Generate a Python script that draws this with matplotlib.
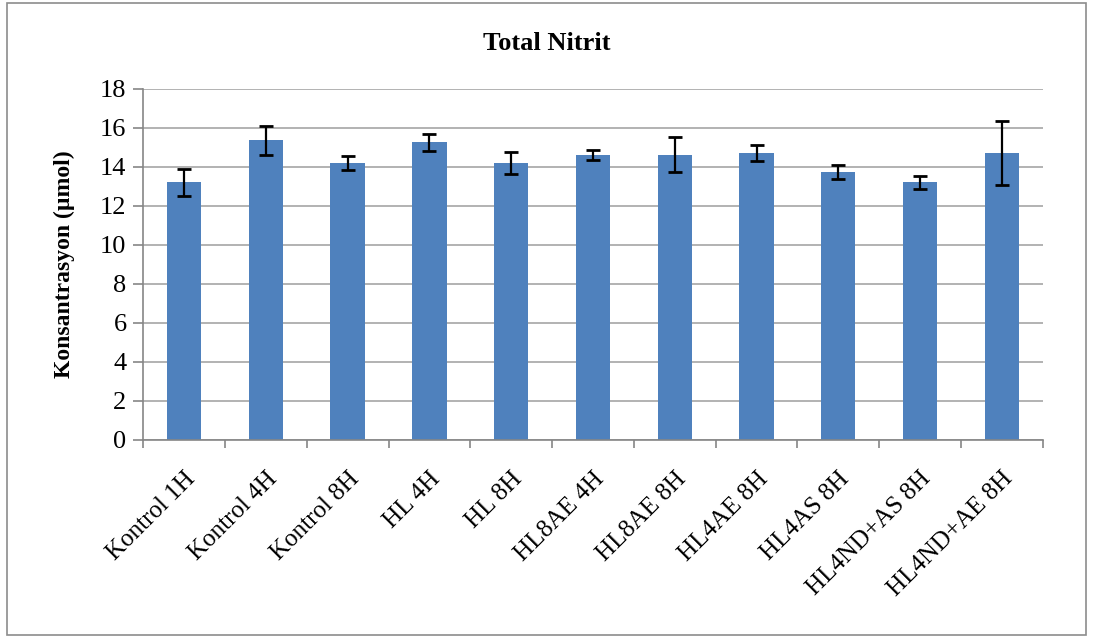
import numpy as np
import matplotlib.pyplot as plt
from matplotlib.patches import Rectangle

# data
groups = ['Kontrol 1H', 'Kontrol 4H', 'Kontrol 8H', 'HL 4H', 'HL 8H', 'HL8AE 4H',
          'HL8AE 8H', 'HL4AE 8H', 'HL4AS 8H', 'HL4ND+AS 8H', 'HL4ND+AE 8H']
means = [13.2, 15.35, 14.2, 15.25, 14.2, 14.6, 14.62, 14.7, 13.72, 13.2, 14.72]
errs = [0.7, 0.73, 0.37, 0.44, 0.55, 0.24, 0.9, 0.43, 0.35, 0.32, 1.65]
yticks = [0, 2, 4, 6, 8, 10, 12, 14, 16, 18]

plt.rcParams['font.family'] = ['Liberation Serif', 'DejaVu Serif']

fig = plt.figure(figsize=(10.93, 6.43), dpi=100)
ax = fig.add_axes([0.131, 0.316, 0.823, 0.546])

x = np.arange(len(groups))
ax.bar(x, means, width=0.42, color='#4F81BD', zorder=2)
ax.errorbar(x, means, yerr=errs, fmt='none', ecolor='black', elinewidth=1.6,
            capsize=5, capthick=2, zorder=3)

ax.set_xlim(-0.5, len(groups) - 0.5)
ax.set_ylim(0, 18)
ax.set_yticks(yticks)
ax.tick_params(axis='y', labelsize=19, length=7, color='#868686', width=1.2, pad=5)
ax.yaxis.grid(True, color='#a6a6a6', linewidth=1.2, zorder=0)
ax.set_axisbelow(True)

# category labels at centers, tick marks at boundaries
ax.set_xticks(x)
ax.set_xticklabels(groups, rotation=45, ha='right', rotation_mode='anchor', fontsize=18)
ax.tick_params(axis='x', length=0, pad=20)
ax.set_xticks(np.arange(-0.5, len(groups)), minor=True)
ax.tick_params(axis='x', which='minor', length=6, color='#868686', width=1.2)

for s in ['top', 'right']:
    ax.spines[s].set_visible(False)
for s in ['left', 'bottom']:
    ax.spines[s].set_color('#868686')
    ax.spines[s].set_linewidth(1.2)

ax.set_ylabel('Konsantrasyon (µmol)', fontsize=17, fontweight='bold', labelpad=18)
fig.text(0.5, 0.933, 'Total Nitrit', ha='center', va='center', fontsize=19, fontweight='bold')

# chart area border
fig.patches.append(Rectangle((0.006, 0.012), 0.988, 0.984, transform=fig.transFigure,
                             fill=False, edgecolor='#8c8c8c', linewidth=1.2))

fig.savefig('out.png', dpi=100)
